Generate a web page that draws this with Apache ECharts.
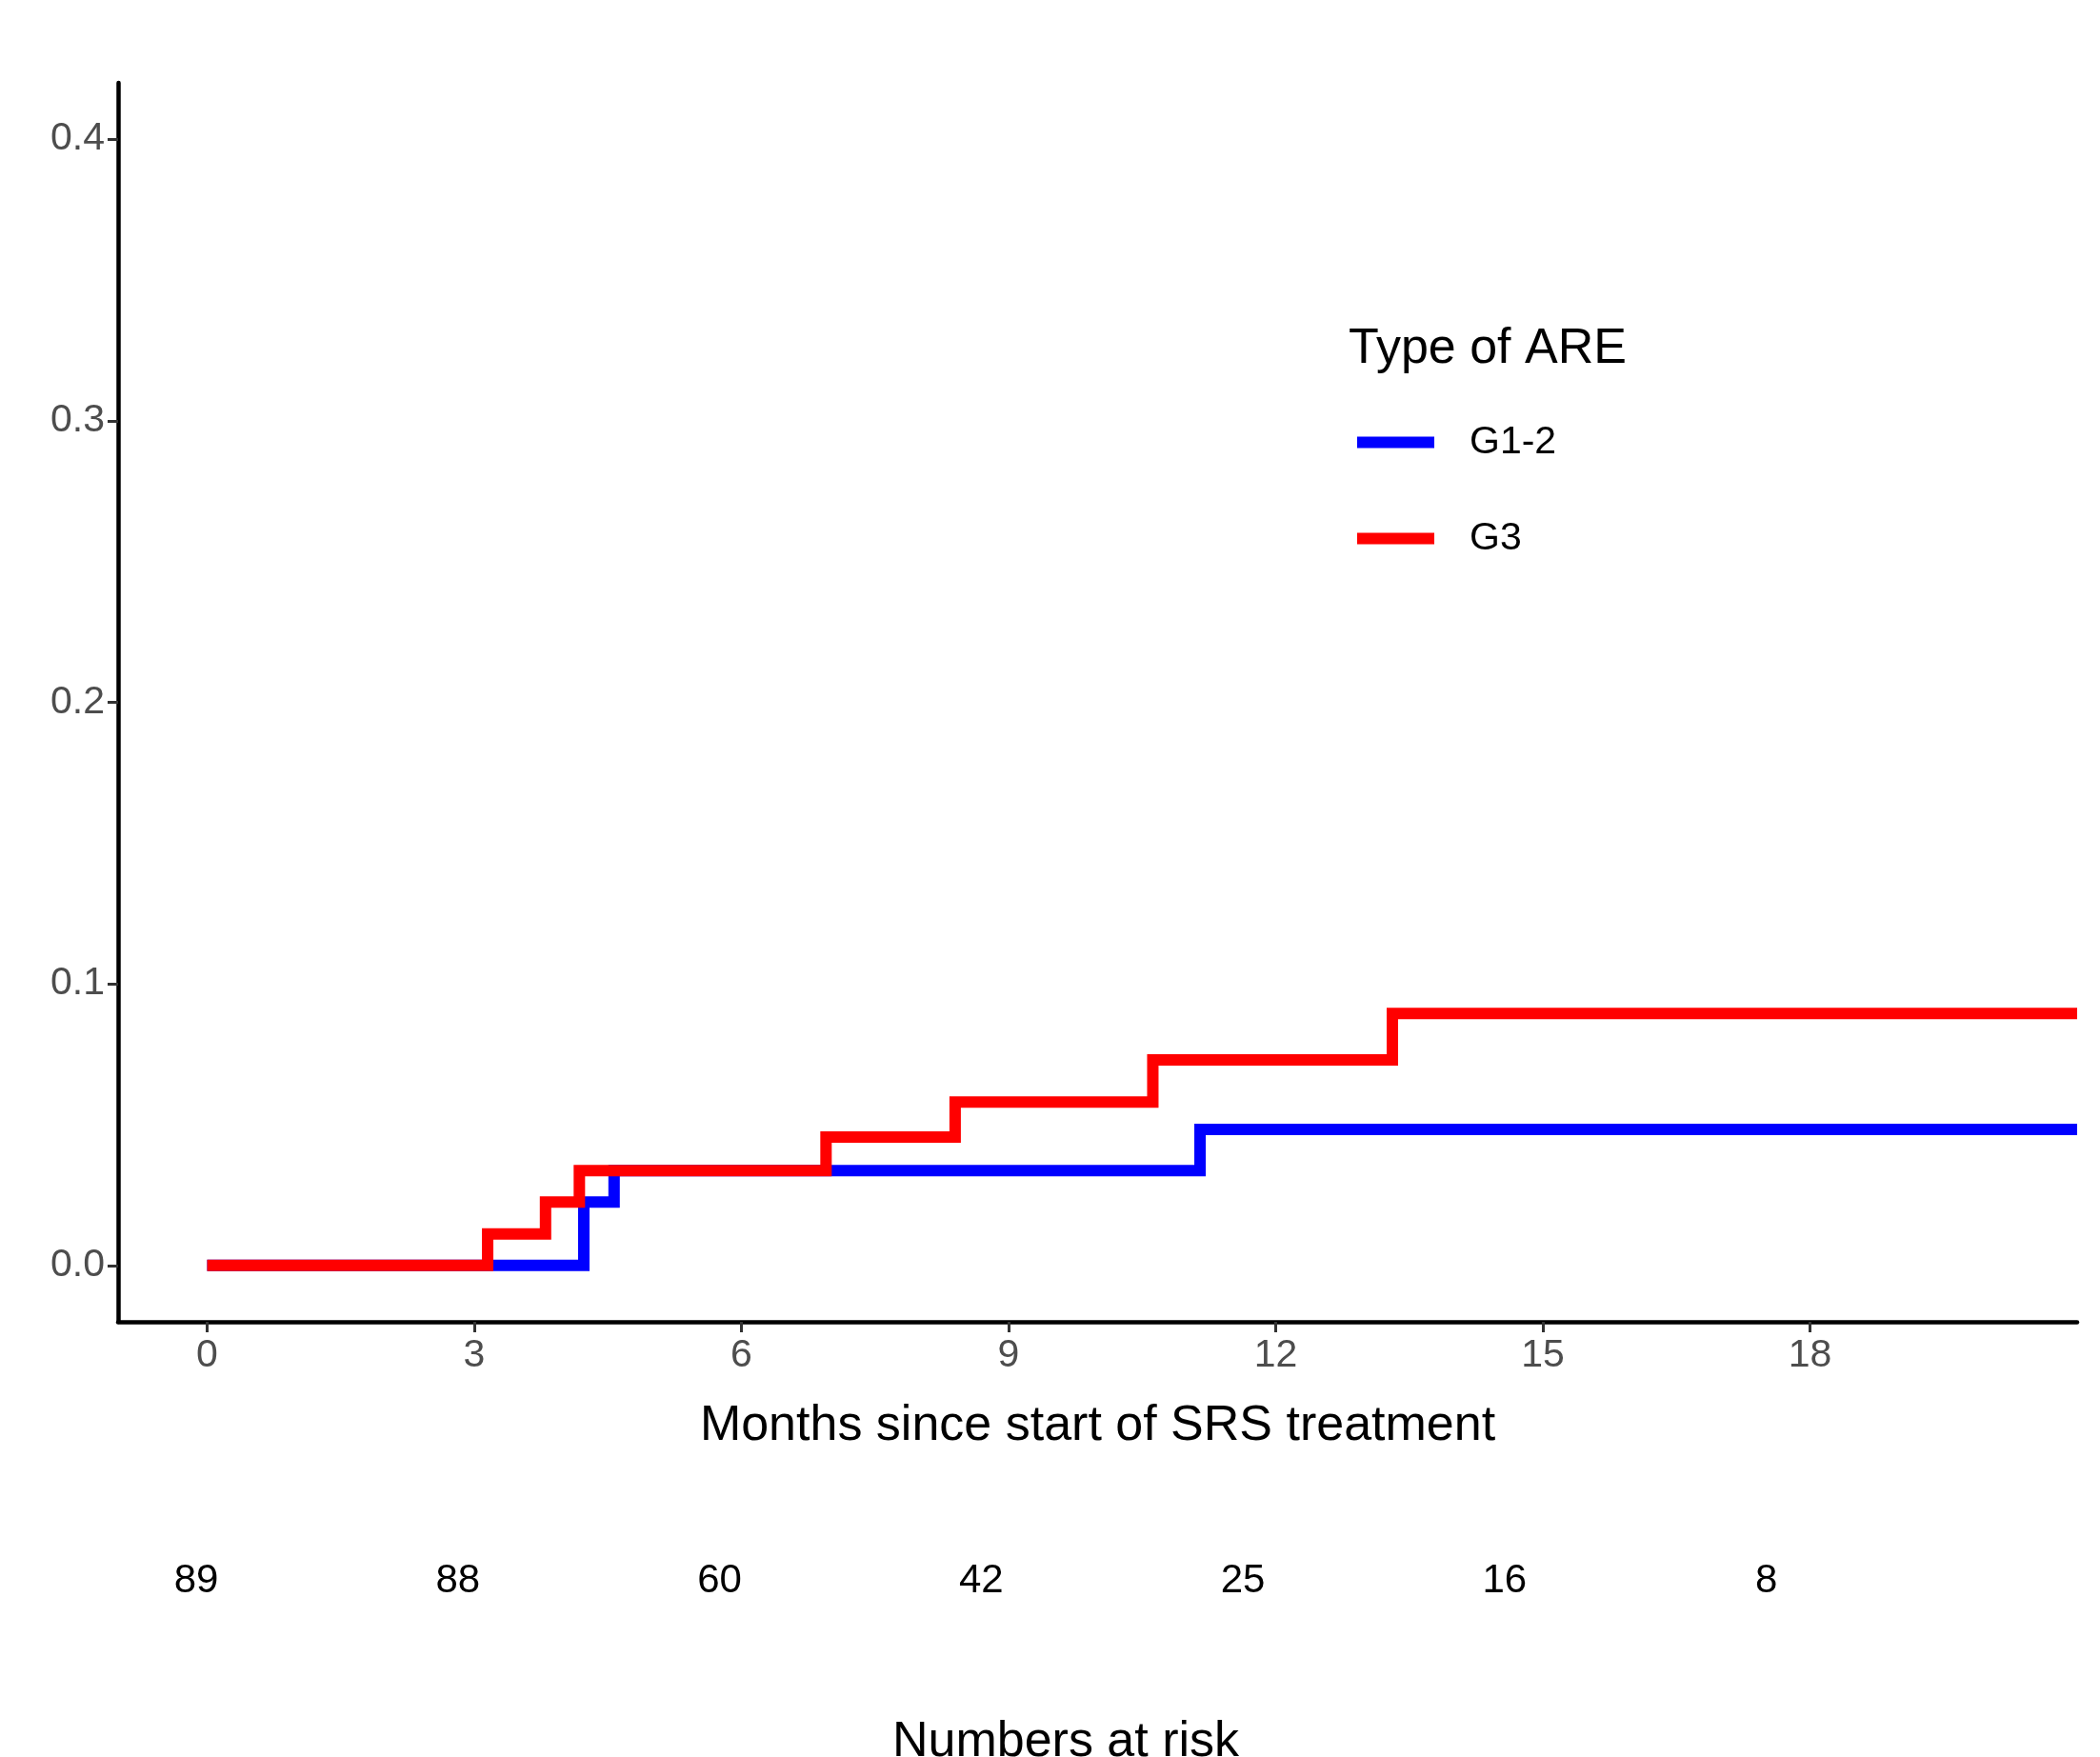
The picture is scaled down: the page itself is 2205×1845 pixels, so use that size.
<!DOCTYPE html>
<html>
<head>
<meta charset="utf-8">
<script src="https://cdn.jsdelivr.net/npm/echarts@6/dist/echarts.min.js"></script>
<style>
  html, body { margin: 0; padding: 0; background: #fff; }
  #chart { width: 2205px; height: 1845px; }
</style>
</head>
<body>
<div id="chart"></div>
<script>
// ---- data ----
const seriesNames = ['G1-2', 'G3'];
const g12Times  = [0, 4.23, 4.57, 11.15, 21];
const g12Values = [0, 0.0225, 0.0337, 0.0483, 0.0483];
const g3Times   = [0, 3.15, 3.80, 4.18, 6.95, 8.40, 10.62, 13.31, 21];
const g3Values  = [0, 0.0112, 0.0225, 0.0337, 0.0456, 0.0580, 0.0730, 0.0895, 0.0895];
const xTicks = [0, 3, 6, 9, 12, 15, 18];
const yTicks = [0, 0.1, 0.2, 0.3, 0.4];
const riskTimes  = [0, 3, 6, 9, 12, 15, 18];
const riskCounts = [89, 88, 60, 42, 25, 16, 8];
const xTitle = 'Months since start of SRS treatment';
const legendTitle = 'Type of ARE';
const riskTitle = 'Numbers at risk';

const FONT = '"Liberation Sans", Arial, sans-serif';
const pairs = (xs, ys) => xs.map((x, i) => [x, ys[i]]);

const chart = echarts.init(document.getElementById('chart'), null, { renderer: 'canvas' });
chart.setOption({
  backgroundColor: '#ffffff',
  animation: false,
  textStyle: { fontFamily: FONT },
  grid: [
    { left: 124, top: 87, width: 2057, height: 1301, containLabel: false },
    { left: 114.4, top: 1620, width: 2015, height: 80, containLabel: false }
  ],
  xAxis: [
    {
      type: 'value', gridIndex: 0, min: -1, max: 21,
      name: xTitle, nameLocation: 'middle', nameGap: 84,
      nameTextStyle: { fontSize: 52, color: '#000', fontFamily: FONT },
      axisLine: { show: true, onZero: false, lineStyle: { color: '#000', width: 4.5 } },
      axisTick: { show: true, customValues: xTicks, length: 11, lineStyle: { color: '#333', width: 3 } },
      axisLabel: { show: true, customValues: xTicks, margin: 15, fontSize: 41, color: '#4D4D4D', fontFamily: FONT },
      splitLine: { show: false }
    },
    {
      type: 'value', gridIndex: 1, min: -1, max: 21, show: false
    }
  ],
  yAxis: [
    {
      type: 'value', gridIndex: 0, min: -0.02, max: 0.42,
      axisLine: { show: true, onZero: false, lineStyle: { color: '#000', width: 4.5 } },
      axisTick: { show: true, customValues: yTicks, length: 11, lineStyle: { color: '#333', width: 3 } },
      axisLabel: { show: true, customValues: yTicks, margin: 14, fontSize: 41, color: '#4D4D4D', fontFamily: FONT,
        formatter: v => Number(v).toFixed(1) },
      splitLine: { show: false }
    },
    {
      type: 'value', gridIndex: 1, min: 0, max: 1, show: false
    }
  ],
  legend: {
    orient: 'vertical', left: 1425, top: 444, itemWidth: 81, itemHeight: 12, itemGap: 60,
    icon: 'rect', padding: 0,
    data: seriesNames,
    textStyle: { fontSize: 41, color: '#000', fontFamily: FONT, padding: [0, 0, 0, 32] }
  },
  graphic: [
    { type: 'text', x: 1416, y: 367, style: { text: legendTitle, font: '52px ' + FONT, fill: '#000', textAlign: 'left', textVerticalAlign: 'middle' } },
    { type: 'text', x: 1119, y: 1830, style: { text: riskTitle, font: '52px ' + FONT, fill: '#000', textAlign: 'center', textVerticalAlign: 'middle' } }
  ],
  series: [
    {
      name: seriesNames[0], type: 'line', step: 'end', xAxisIndex: 0, yAxisIndex: 0,
      data: pairs(g12Times, g12Values), showSymbol: false, symbol: 'none',
      itemStyle: { color: '#0000FF' },
      lineStyle: { color: '#0000FF', width: 12, join: 'miter', cap: 'butt' },
      z: 2
    },
    {
      name: seriesNames[1], type: 'line', step: 'end', xAxisIndex: 0, yAxisIndex: 0,
      data: pairs(g3Times, g3Values), showSymbol: false, symbol: 'none',
      itemStyle: { color: '#FF0000' },
      lineStyle: { color: '#FF0000', width: 12, join: 'miter', cap: 'butt' },
      z: 3
    },
    {
      name: 'risk', type: 'scatter', xAxisIndex: 1, yAxisIndex: 1,
      data: riskTimes.map((t, i) => [t, 0.5, riskCounts[i]]),
      symbolSize: 1, itemStyle: { color: 'rgba(0,0,0,0)', opacity: 1 },
      label: { show: true, position: 'inside', formatter: p => String(p.value[2]),
        fontSize: 42, color: '#000', opacity: 1, fontFamily: FONT },
      silent: true
    }
  ]
});
</script>
</body>
</html>
